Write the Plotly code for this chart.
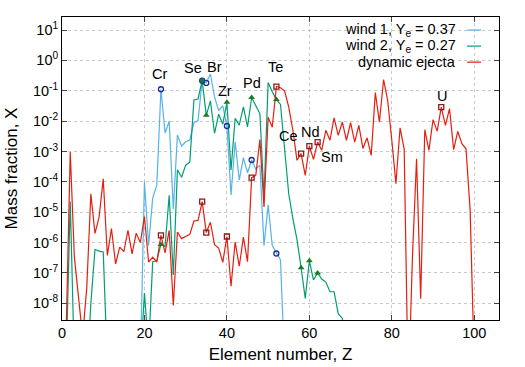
import plotly.graph_objects as go

# ---------------- data (log10 of mass fraction) ----------------
z_dyn = list(range(1, 101))
logx_dyn = [-9.0, -3.02, -6.48, -8.0, -9.1, -7.5, -4.39, -5.7, -5.16, -3.9,
            -6.42, -5.54, -6.7, -6.15, -6.3, -5.6, -6.37, -5.69, -6.0, -5.14,
            -6.64, -6.48, -6.64, -5.76, -6.34, -5.6, -8.07, -5.65, -5.87, -5.8,
            -5.73, -5.29, -5.27, -4.65, -5.67, -5.33, -6.07, -6.18, -6.65, -5.8,
            -7.44, -5.98, -6.78, -5.82, -6.63, -3.86, -3.79, -2.61, -4.83, -1.87,
            -2.2, -0.86, -0.9, -1.01, -1.54, -2.3, -3.29, -3.07, -3.79, -2.82,
            -3.26, -2.69, -2.96, -2.3, -2.63, -1.89, -2.47, -2.03, -2.63, -2.05,
            -2.69, -2.14, -2.9, -2.55, -3.13, -1.06, -2.03, -0.63, -1.32, -2.63,
            -4.06, -2.22, -2.91, -11.0, -6.5, -3.24, -7.85, -2.28, -2.96, -1.95,
            -2.33, -1.54, -2.14, -1.59, -2.94, -2.34, -2.74, -2.91, -4.94, -10.0]

z_w1 = list(range(19, 55))
logx_w1 = [-10.0, -4.0, -6.1, -4.53, -4.1, -0.95, -2.39, -2.0, -4.9, -2.46,
           -2.82, -2.68, -2.62, -2.05, -1.98, -0.67, -0.74, -0.45, -1.2, -1.65,
           -1.5, -2.16, -4.43, -2.68, -3.94, -3.2, -3.7, -3.28, -3.58, -3.45,
           -6.1, -4.76, -6.1, -6.36, -6.57, -10.0]

z_w2 = list(range(1, 70))
logx_w2 = [-10.0, -4.65, -10.0, -10.5, -10.5, -10.5, -8.0, -6.23, -6.28, -6.31,
           -10.0, -10.0, -10.0, -10.0, -10.0, -10.0, -10.0, -10.0, -10.0, -7.66,
           -9.5, -6.63, -6.6, -6.06, -6.13, -4.44, -7.07, -3.6, -3.85, -3.45,
           -3.35, -1.3, -1.27, -0.66, -1.81, -1.33, -2.4, -1.77, -2.1, -1.38,
           -3.61, -1.91, -2.13, -1.53, -2.19, -1.22, -1.47, -1.75, -4.5, -0.73,
           -1.03, -1.29, -1.45, -3.0, -4.4, -5.2, -5.9, -6.83, -7.84, -6.6,
           -7.23, -7.0, -7.2, -7.3, -7.62, -7.62, -8.34, -8.5, -10.0]

mark_z = [24, 34, 35, 40, 46, 52, 58, 60, 62, 92]
label_names = ["Cr", "Se", "Br", "Zr", "Pd", "Te", "Ce", "Nd", "Sm", "U"]
label_x = [23.7, 31.8, 37.0, 39.5, 46.1, 51.9, 54.9, 60.2, 65.6, 92.2]
label_logy = [-0.45, -0.25, -0.22, -1.01, -0.75, -0.22, -2.49, -2.36, -3.18, -1.18]

legend_names = ["wind 1, Y<sub>e</sub> = 0.37", "wind 2, Y<sub>e</sub> = 0.27", "dynamic ejecta"]

ytick_exp = [1, 0, -1, -2, -3, -4, -5, -6, -7, -8]
xtick_vals = [0, 20, 40, 60, 80, 100]

# ---------------- styling ----------------
C_W1, C_W2, C_DYN = "#56b4e9", "#009e73", "#e51e10"
FONT = "Liberation Sans, Arial, sans-serif"
FS = 14.5

def vals(logs):
    return [10 ** v for v in logs]

x_w1 = vals(logx_w1)
x_w2 = vals(logx_w2)
x_dyn = vals(logx_dyn)

fig = go.Figure()
fig.add_trace(go.Scatter(x=z_w1, y=x_w1, mode="lines", line=dict(color=C_W1, width=1.2),
                         name=legend_names[0], showlegend=False))
fig.add_trace(go.Scatter(x=z_w2, y=x_w2, mode="lines", line=dict(color=C_W2, width=1.2),
                         name=legend_names[1], showlegend=False))
fig.add_trace(go.Scatter(x=z_dyn, y=x_dyn, mode="lines", line=dict(color=C_DYN, width=1.2),
                         name=legend_names[2], showlegend=False))

# markers at labelled elements
mz1 = [z for z in mark_z if z in z_w1]
fig.add_trace(go.Scatter(x=mz1, y=[x_w1[z_w1.index(z)] for z in mz1], mode="markers",
                         marker=dict(symbol="circle-open", size=5, color="#1a2a9c",
                                     line=dict(width=1.3)), showlegend=False))
mz2 = [z for z in mark_z if z in z_w2]
fig.add_trace(go.Scatter(x=mz2, y=[x_w2[z_w2.index(z)] for z in mz2], mode="markers",
                         marker=dict(symbol="triangle-up", size=6, color="#1e7a1e"),
                         showlegend=False))
fig.add_trace(go.Scatter(x=mark_z, y=[x_dyn[z_dyn.index(z)] for z in mark_z], mode="markers",
                         marker=dict(symbol="square-open", size=5, color="#8b1a1a",
                                     line=dict(width=1.3)), showlegend=False))

for name, lx, ly in zip(label_names, label_x, label_logy):
    fig.add_annotation(x=lx, y=ly, text=name, showarrow=False,
                       font=dict(family=FONT, size=FS, color="black"))

# manual legend (text left of line sample, like gnuplot)
leg_y = [0.957, 0.904, 0.851]
for name, col, yy in zip(legend_names, [C_W1, C_W2, C_DYN], leg_y):
    fig.add_annotation(x=0.906, y=yy, xref="paper", yref="paper", text=name,
                       showarrow=False, xanchor="right", yanchor="middle",
                       font=dict(family=FONT, size=FS, color="black"))
    fig.add_shape(type="line", xref="paper", yref="paper", x0=0.927, x1=0.959,
                  y0=yy, y1=yy, line=dict(color=col, width=1.2))

fig.update_layout(
    width=525, height=367,
    margin=dict(l=62, r=26, t=17, b=47, autoexpand=False),
    paper_bgcolor="white", plot_bgcolor="white",
    font=dict(family=FONT, size=FS, color="black"),
)
fig.update_xaxes(range=[0, 106], tickvals=xtick_vals, ticks="inside", ticklen=5,
                 showline=True, mirror="ticks", linecolor="black", linewidth=1,
                 showgrid=True, gridcolor="#c8c8c8", griddash="dot", gridwidth=1,
                 zeroline=False, title=dict(text="Element number, Z", standoff=7),
                 tickfont=dict(size=FS), automargin=False)
fig.update_yaxes(type="log", range=[-8.55, 1.43],
                 tickvals=[10 ** e for e in ytick_exp],
                 ticktext=["10<sup>%d</sup>" % e for e in ytick_exp],
                 ticks="inside", ticklen=5,
                 showline=True, mirror="ticks", linecolor="black", linewidth=1,
                 showgrid=True, gridcolor="#c8c8c8", griddash="dot", gridwidth=1,
                 zeroline=False, title=dict(text="Mass fraction, X", standoff=10),
                 tickfont=dict(size=FS), automargin=False)

fig.write_html("out.html")
